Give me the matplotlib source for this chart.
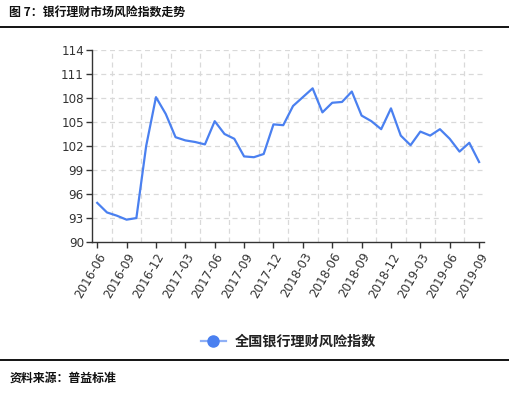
import numpy as np
import matplotlib
matplotlib.use("Agg")
import matplotlib.pyplot as plt
from matplotlib.lines import Line2D

plt.rcParams['font.family'] = ['DejaVu Sans', 'Noto Sans CJK SC']

# 全国银行理财风险指数, 月度 2016-06 ~ 2019-09
months = [f"{y}-{m:02d}" for y in range(2016, 2020) for m in range(1, 13)]
months = months[5:5 + 40]
index_vals = [94.9, 93.7, 93.3, 92.8, 93.0, 102.0, 108.1, 106.0, 103.1, 102.7,
              102.5, 102.2, 105.1, 103.5, 102.9, 100.7, 100.6, 101.0, 104.7, 104.6,
              107.0, 108.1, 109.2, 106.2, 107.4, 107.5, 108.8, 105.8, 105.1, 104.1,
              106.7, 103.3, 102.1, 103.8, 103.3, 104.1, 102.9, 101.3, 102.4, 100.0]
yticks = list(range(90, 115, 3))

title = "图 7：银行理财市场风险指数走势"
series_name = "全国银行理财风险指数"
source = "资料来源：普益标准"

cjk = ['Noto Sans CJK SC', 'DejaVu Sans']
line_color = '#4a80f0'
txt = '#333333'

fig = plt.figure(figsize=(5.10, 3.93), dpi=100)
ax = fig.add_axes([0.181, 0.384, 0.768, 0.489])

x = np.arange(len(index_vals))
ax.plot(x, index_vals, color=line_color, lw=1.6, zorder=3)

ax.set_xlim(-0.5, len(index_vals) - 0.5)
ax.set_ylim(90, 114)
ax.set_yticks(yticks)
ax.set_yticklabels([str(v) for v in yticks], fontsize=8.6, color=txt)
xt = x[::3]
ax.set_xticks(xt)
ax.set_xticklabels([months[i] for i in xt], rotation=60, ha='right',
                   rotation_mode='anchor', fontsize=8.6, color=txt)

# dashed grid
for v in yticks[1:]:
    ax.axhline(v, color='#d9d9d9', lw=0.9, ls=(0, (4, 3)), zorder=1)
for g in np.arange(1.5, len(index_vals) - 1, 3):
    ax.axvline(g, color='#d9d9d9', lw=0.9, ls=(0, (4, 3)), zorder=1)

for s in ['top', 'right']:
    ax.spines[s].set_visible(False)
for s in ['left', 'bottom']:
    ax.spines[s].set_color('#333333')
    ax.spines[s].set_linewidth(1.0)
ax.tick_params(axis='both', length=4, width=1.0, color='#333333', pad=2)

# title and rules
fig.text(0.018, 0.968, title, fontsize=8.6, family=cjk, weight='bold', va='center', color='#111111')
fig.add_artist(Line2D([0, 1], [1 - 27 / 393] * 2, color='black', lw=1.3))
fig.add_artist(Line2D([0, 1], [1 - 360 / 393] * 2, color='black', lw=1.3))
fig.text(0.018, 1 - 378 / 393, source, fontsize=8.6, family=cjk, weight='bold', va='center', color='#111111')

# legend
handle = Line2D([], [], color='#8fb0f6', lw=1.6, marker='o', markersize=8,
                markerfacecolor=line_color, markeredgecolor=line_color)
leg = fig.legend([handle], [series_name], loc='center', bbox_to_anchor=(0.565, 1 - 342 / 393),
                 frameon=False, prop={'family': cjk, 'size': 10.2, 'weight': 'bold'},
                 handlelength=1.8, handletextpad=0.6)
for t in leg.get_texts():
    t.set_color('#222222')

fig.savefig('out.png', dpi=100)
